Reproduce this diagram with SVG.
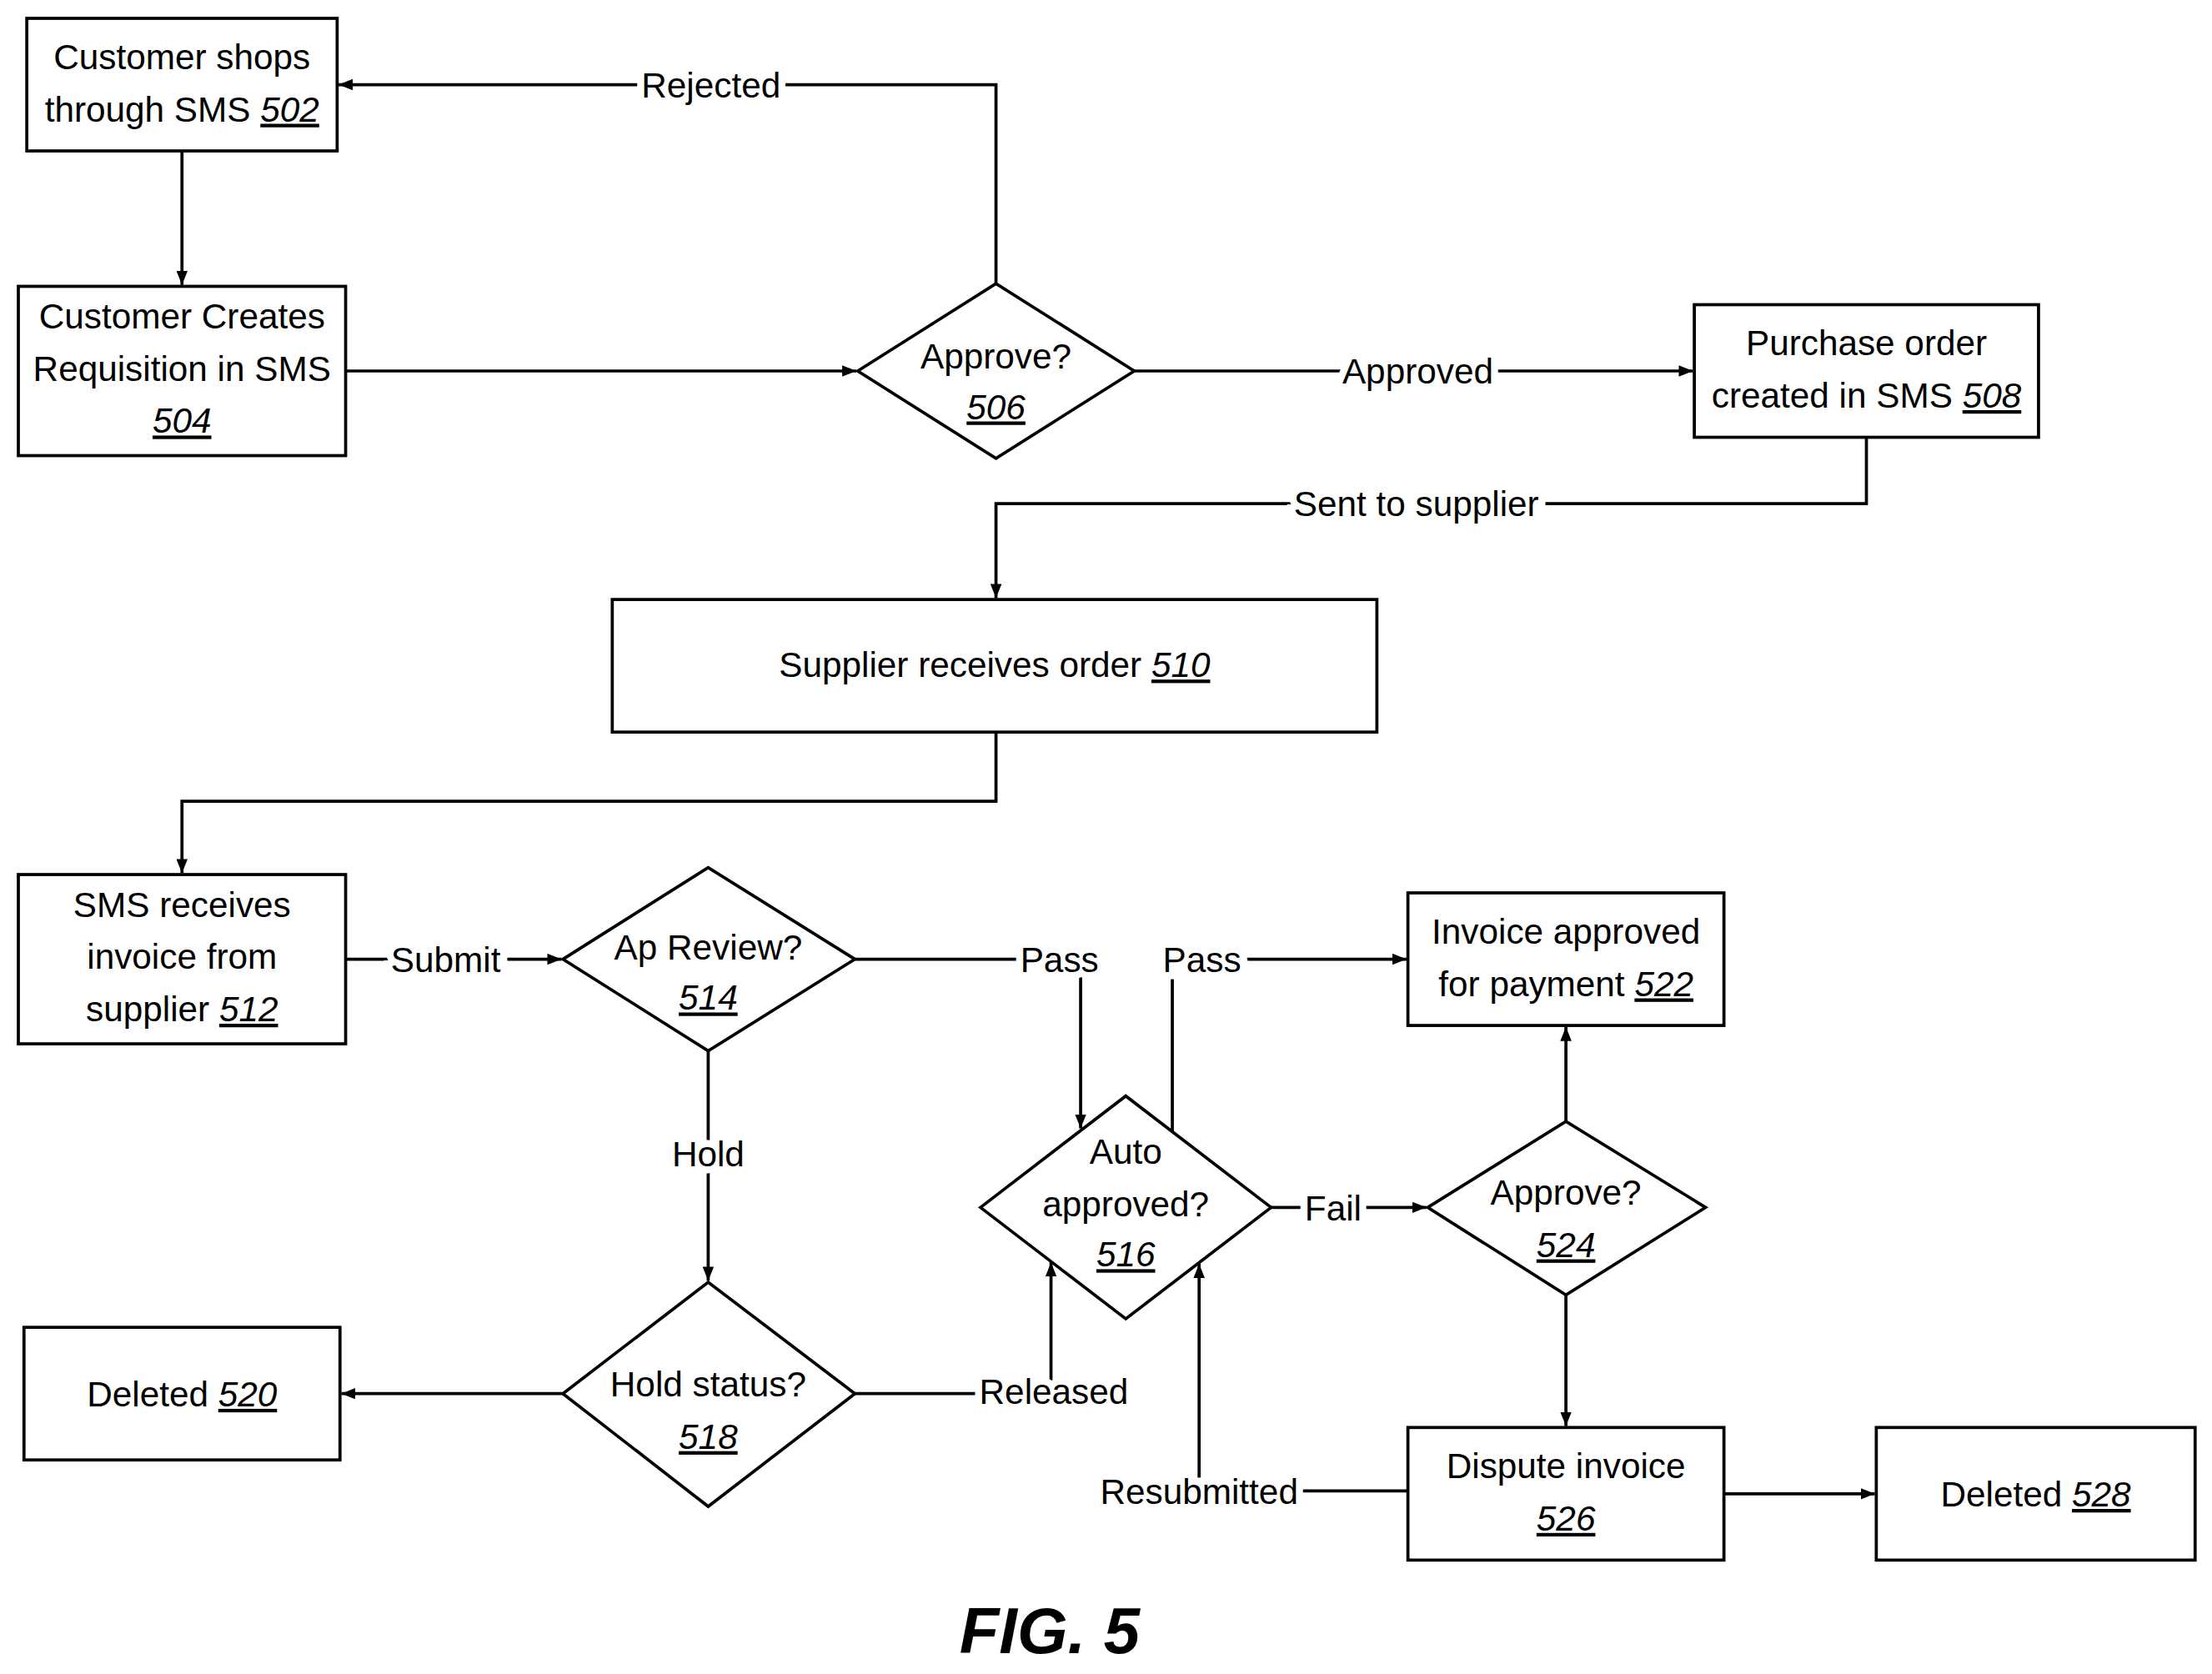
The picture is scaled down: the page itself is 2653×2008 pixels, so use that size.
<svg xmlns="http://www.w3.org/2000/svg" width="2653" height="2008" viewBox="0 0 2653 2008">
<style>
.b{fill:#fff;stroke:#000;stroke-width:2.2}
.c{fill:none;stroke:#000;stroke-width:2.2;marker-end:url(#a)}
text{font-family:"Liberation Sans",Arial,sans-serif;font-size:25px;text-anchor:middle;fill:#000}
.l{paint-order:stroke;stroke:#fff;stroke-width:10px}
.n{font-style:italic;text-decoration:underline}
</style>
<defs><marker id="a" markerWidth="10" markerHeight="8" refX="10" refY="4" orient="auto" markerUnits="userSpaceOnUse"><path d="M0,0L10,4L0,8z"/></marker></defs>
<rect width="2653" height="2008" fill="#fff"/>
<g transform="scale(1.692)">
<g id="connectors">
<path class="c" d="M706,201V60H240"/>
<path class="c" d="M129,107V202"/>
<path class="c" d="M245,263H607"/>
<path class="c" d="M804,263H1200"/>
<path class="c" d="M1323,310V357H706V424"/>
<path class="c" d="M706,519V568H129V619"/>
<path class="c" d="M245,680H398"/>
<path class="c" d="M606,680H766V800"/>
<path class="c" d="M831,802V680H997"/>
<path class="c" d="M901,856H1011"/>
<path class="c" d="M1110,795V728"/>
<path class="c" d="M1110,918V1011"/>
<path class="c" d="M1222,1059H1329"/>
<path class="c" d="M998,1057H850V896"/>
<path class="c" d="M502,745V908"/>
<path class="c" d="M399,988H242"/>
<path class="c" d="M606,988H745V895"/>
<text class="l" x="504" y="69">Rejected</text>
<text class="l" x="1005" y="272">Approved</text>
<text class="l" x="1004" y="366">Sent to supplier</text>
<text class="l" x="316" y="689">Submit</text>
<text class="l" x="751" y="689">Pass</text>
<text class="l" x="852" y="689">Pass</text>
<text class="l" x="945" y="865">Fail</text>
<text class="l" x="850" y="1066">Resubmitted</text>
<text class="l" x="502" y="827">Hold</text>
<text class="l" x="747" y="995">Released</text>
</g>
<g id="n502"><rect class="b" x="19" y="13" width="220" height="94"/><text x="129" y="49">Customer shops</text><text x="129" y="86">through SMS <tspan class="n">502</tspan></text></g>
<g id="n504"><rect class="b" x="13" y="203" width="232" height="120"/><text x="129" y="233">Customer Creates</text><text x="129" y="270">Requisition in SMS</text><text x="129" y="307" class="n">504</text></g>
<g id="n506"><path class="b" d="M608,263L706,201L804,263L706,325Z"/><text x="706" y="261">Approve?</text><text x="706" y="297" class="n">506</text></g>
<g id="n508"><rect class="b" x="1201" y="216" width="244" height="94"/><text x="1323" y="252">Purchase order</text><text x="1323" y="289">created in SMS <tspan class="n">508</tspan></text></g>
<g id="n510"><rect class="b" x="434" y="425" width="542" height="94"/><text x="705" y="480">Supplier receives order <tspan class="n">510</tspan></text></g>
<g id="n512"><rect class="b" x="13" y="620" width="232" height="120"/><text x="129" y="650">SMS receives</text><text x="129" y="687">invoice from</text><text x="129" y="724">supplier <tspan class="n">512</tspan></text></g>
<g id="n514"><path class="b" d="M399,680L502,615L606,680L502,745Z"/><text x="502" y="680">Ap Review?</text><text x="502" y="716" class="n">514</text></g>
<g id="n516"><path class="b" d="M695,856L798,777L901,856L798,935Z"/><text x="798" y="825">Auto</text><text x="798" y="862">approved?</text><text x="798" y="898" class="n">516</text></g>
<g id="n518"><path class="b" d="M399,988L502,909L606,988L502,1068Z"/><text x="502" y="990">Hold status?</text><text x="502" y="1027" class="n">518</text></g>
<g id="n520"><rect class="b" x="17" y="941" width="224" height="94"/><text x="129" y="997">Deleted <tspan class="n">520</tspan></text></g>
<g id="n522"><rect class="b" x="998" y="633" width="224" height="94"/><text x="1110" y="669">Invoice approved</text><text x="1110" y="706">for payment <tspan class="n">522</tspan></text></g>
<g id="n524"><path class="b" d="M1012,856L1110,795L1209,856L1110,918Z"/><text x="1110" y="854">Approve?</text><text x="1110" y="891" class="n">524</text></g>
<g id="n526"><rect class="b" x="998" y="1012" width="224" height="94"/><text x="1110" y="1048">Dispute invoice</text><text x="1110" y="1085" class="n">526</text></g>
<g id="n528"><rect class="b" x="1330" y="1012" width="226" height="94"/><text x="1443" y="1068">Deleted <tspan class="n">528</tspan></text></g>
<text x="744" y="1172" style="font-size:46px;font-weight:bold;font-style:italic">FIG. 5</text>
</g>
</svg>
